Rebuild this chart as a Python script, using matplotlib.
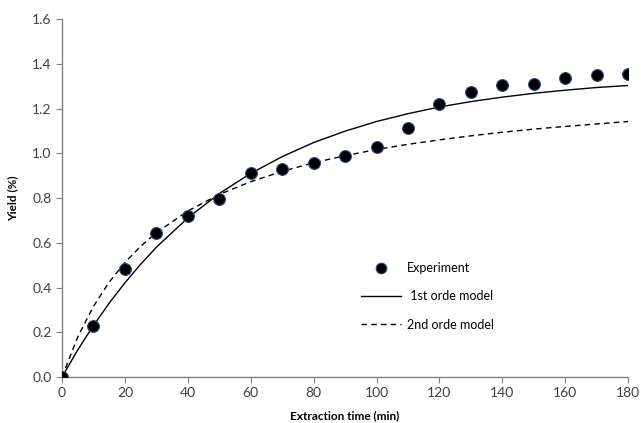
import matplotlib.pyplot as plt

# experimental yield (%) vs extraction time (min)
t_exp = [0, 10, 20, 30, 40, 50, 60, 70, 80, 90, 100, 110, 120, 130, 140, 150, 160, 170, 180]
y_exp = [0.0, 0.228, 0.483, 0.642, 0.719, 0.795, 0.910, 0.928, 0.958, 0.986, 1.028,
         1.115, 1.221, 1.274, 1.307, 1.310, 1.336, 1.352, 1.356]

# model curves, values
t_mod = [0, 5, 10, 15, 20, 25, 30, 40, 50, 60, 70, 80, 90, 100, 110, 120, 130, 140, 150, 160, 170, 180]
y_first = [0.0, 0.121, 0.230, 0.330, 0.421, 0.504, 0.580, 0.711, 0.820, 0.910, 0.985, 1.048,
           1.099, 1.142, 1.177, 1.207, 1.231, 1.251, 1.268, 1.282, 1.294, 1.303]
y_second = [0.0, 0.179, 0.316, 0.424, 0.512, 0.584, 0.645, 0.742, 0.816, 0.873, 0.919, 0.958,
            0.989, 1.017, 1.040, 1.060, 1.078, 1.094, 1.108, 1.120, 1.131, 1.142]

plt.rcParams['font.family'] = ['Lato', 'DejaVu Sans']

fig = plt.figure(figsize=(6.41, 4.23), dpi=100)
ax = fig.add_axes([0.0967, 0.1087, 0.8833, 0.8463])

ax.plot(t_exp, y_exp, 'o', color='black', markersize=8.5,
        markeredgecolor='#2a4a80', markeredgewidth=0.8, label='Experiment', zorder=3)
ax.plot(t_mod, y_first, '-', color='black', linewidth=1.0, label=' 1st orde model')
ax.plot(t_mod, y_second, color='black', linewidth=1.0, linestyle=(0, (4, 3)),
        label='2nd orde model')

ax.set_xlim(0, 180)
ax.set_ylim(0, 1.6)
ax.set_xticks(range(0, 181, 20))
ax.set_yticks([0.0, 0.2, 0.4, 0.6, 0.8, 1.0, 1.2, 1.4, 1.6])
ax.yaxis.set_major_formatter(plt.FormatStrFormatter('%.1f'))

for s in ['top', 'right']:
    ax.spines[s].set_visible(False)
for s in ['left', 'bottom']:
    ax.spines[s].set_color('#808080')
    ax.spines[s].set_linewidth(1.0)
ax.tick_params(direction='out', length=4, color='#808080', labelsize=10,
               labelcolor='#404040')

ax.set_xlabel('Extraction time (min)', fontsize=8.5, fontweight='bold', labelpad=8)
ax.set_ylabel('Yield (%)', fontsize=8.5, fontweight='bold', labelpad=10)

ax.legend(frameon=False, loc='center', bbox_to_anchor=(0.645, 0.225), fontsize=9,
          handlelength=3.2, labelspacing=1.3, handletextpad=0.5, markerscale=0.9)

fig.savefig('out.png', dpi=100)
